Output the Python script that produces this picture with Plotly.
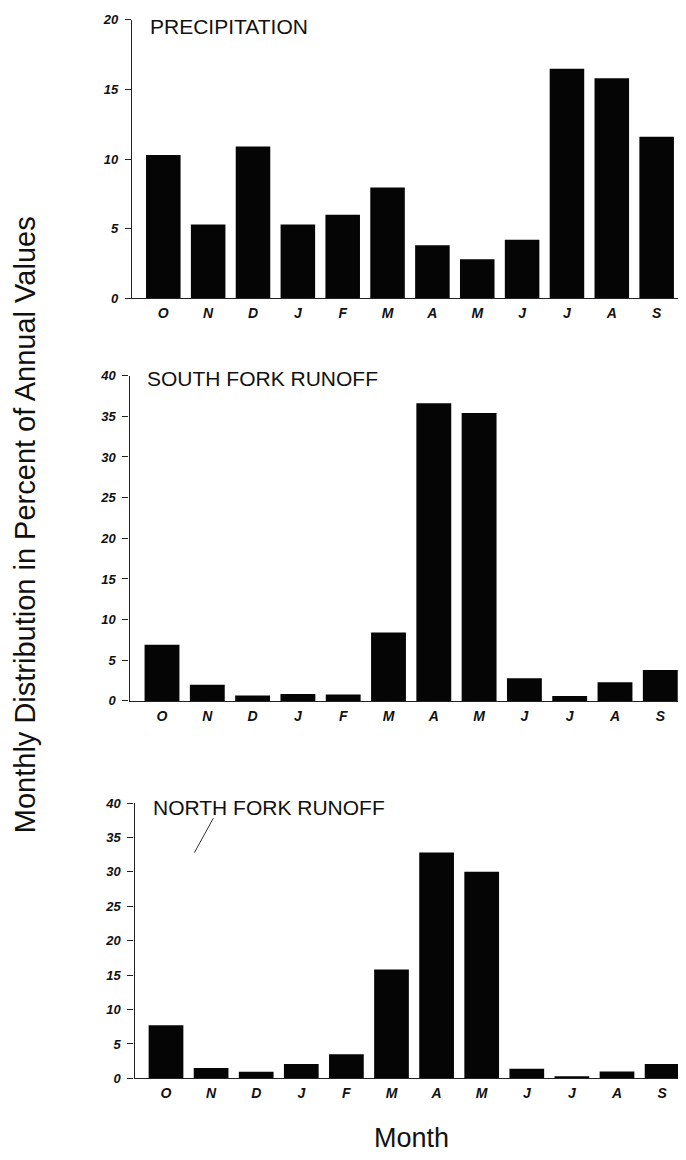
import plotly.graph_objects as go

# ---------------- data ----------------
month_labels = ["O", "N", "D", "J", "F", "M", "A", "M", "J", "J", "A", "S"]
precipitation = [10.3, 5.3, 10.9, 5.3, 6.0, 7.95, 3.8, 2.8, 4.2, 16.5, 15.8, 11.6]
south_fork = [6.9, 2.0, 0.65, 0.85, 0.8, 8.4, 36.6, 35.4, 2.8, 0.6, 2.3, 3.8]
north_fork = [7.7, 1.5, 0.95, 2.1, 3.5, 15.8, 32.8, 30.0, 1.4, 0.3, 1.0, 2.1]
panel_titles = ["PRECIPITATION", "SOUTH FORK RUNOFF", "NORTH FORK RUNOFF"]
y_max = [20, 40, 40]

# the page body has an 8px margin, so the figure is placed 8px in from the window edge
OFF = 8
WIN_W, WIN_H = 686, 1160
W, H = WIN_W - OFF, WIN_H - 2 * OFF
x_pos = list(range(len(month_labels)))


def fx(px):  # window pixel -> paper x
    return (px - OFF) / W


def fy(py):  # window pixel -> paper y
    return 1 - (py - OFF) / H


# layout geometry per panel (window pixels)
panels = [
    dict(axis_px=132.0, first_px=163.3, step=44.85, top_px=13.0, bot_px=295.0, title_x=148, title_y=20),
    dict(axis_px=129.5, first_px=162.0, step=45.3, top_px=373.5, bot_px=703.0, title_x=145, title_y=376),
    dict(axis_px=134.5, first_px=166.0, step=45.1, top_px=806.5, bot_px=1085.5, title_x=151, title_y=811),
]
series = [precipitation, south_fork, north_fork]

fig = go.Figure()
tickfont = dict(family="Liberation Sans, Arial, sans-serif", size=13, color="#111", style="italic", weight="bold")
xtickfont = dict(family="Liberation Sans, Arial, sans-serif", size=14, color="#111", style="italic", weight="bold")

for i, (p, vals) in enumerate(zip(panels, series)):
    n = i + 1
    xa = "x" if n == 1 else f"x{n}"
    ya = "y" if n == 1 else f"y{n}"
    fig.add_trace(go.Bar(
        x=x_pos, y=vals, xaxis=xa, yaxis=ya,
        marker=dict(color="#050505", line=dict(width=0)),
        showlegend=False, width=0.77,
    ))
    left = -(p["first_px"] - p["axis_px"]) / p["step"]
    last_center = p["first_px"] + 11 * p["step"]
    right = 11 + (WIN_W - last_center) / p["step"]
    xkey = "xaxis" if n == 1 else f"xaxis{n}"
    ykey = "yaxis" if n == 1 else f"yaxis{n}"
    fig.update_layout(**{
        xkey: dict(
            domain=[fx(p["axis_px"]), 1.0], range=[left, right], anchor=ya,
            tickmode="array", tickvals=x_pos, ticktext=month_labels,
            showline=True, linecolor="#222", linewidth=1.4,
            ticks="", showgrid=False, zeroline=False, tickfont=xtickfont,
            ticklabelstandoff=2, fixedrange=True,
        ),
        ykey: dict(
            domain=[fy(p["bot_px"]), fy(p["top_px"])], range=[0, y_max[i]], anchor=xa,
            tickmode="linear", tick0=0, dtick=5,
            showline=True, linecolor="#222", linewidth=1.4,
            ticks="outside", ticklen=6, tickwidth=1.2, tickcolor="#222",
            showgrid=False, zeroline=False, tickfont=tickfont,
            ticklabelstandoff=4, fixedrange=True,
        ),
    })
    fig.add_annotation(
        text=panel_titles[i], xref="paper", yref="paper",
        x=fx(p["title_x"]), y=fy(p["title_y"]), xanchor="left", yanchor="middle",
        showarrow=False, font=dict(family="Liberation Sans, Arial, sans-serif", size=21, color="#111"),
    )

# stray pen stroke under the north fork title
fig.add_shape(type="line", xref="x3", yref="y3", x0=1.05, y0=37.8, x1=0.63, y1=32.8,
              line=dict(color="#333", width=1))

# axis titles
fig.add_annotation(
    text="Monthly Distribution in Percent of Annual Values", xref="paper", yref="paper",
    x=fx(25), y=fy(525), xanchor="center", yanchor="middle", textangle=-90,
    showarrow=False, font=dict(family="Liberation Sans, Arial, sans-serif", size=29, color="#111"),
)
fig.add_annotation(
    text="Month", xref="paper", yref="paper",
    x=fx(411), y=fy(1146), xanchor="center", yanchor="middle",
    showarrow=False, font=dict(family="Liberation Sans, Arial, sans-serif", size=27, color="#111"),
)

fig.update_layout(
    width=W, height=H, margin=dict(l=0, r=0, t=0, b=0),
    paper_bgcolor="white", plot_bgcolor="white", bargap=0.23,
)

fig.write_html("out.html")
